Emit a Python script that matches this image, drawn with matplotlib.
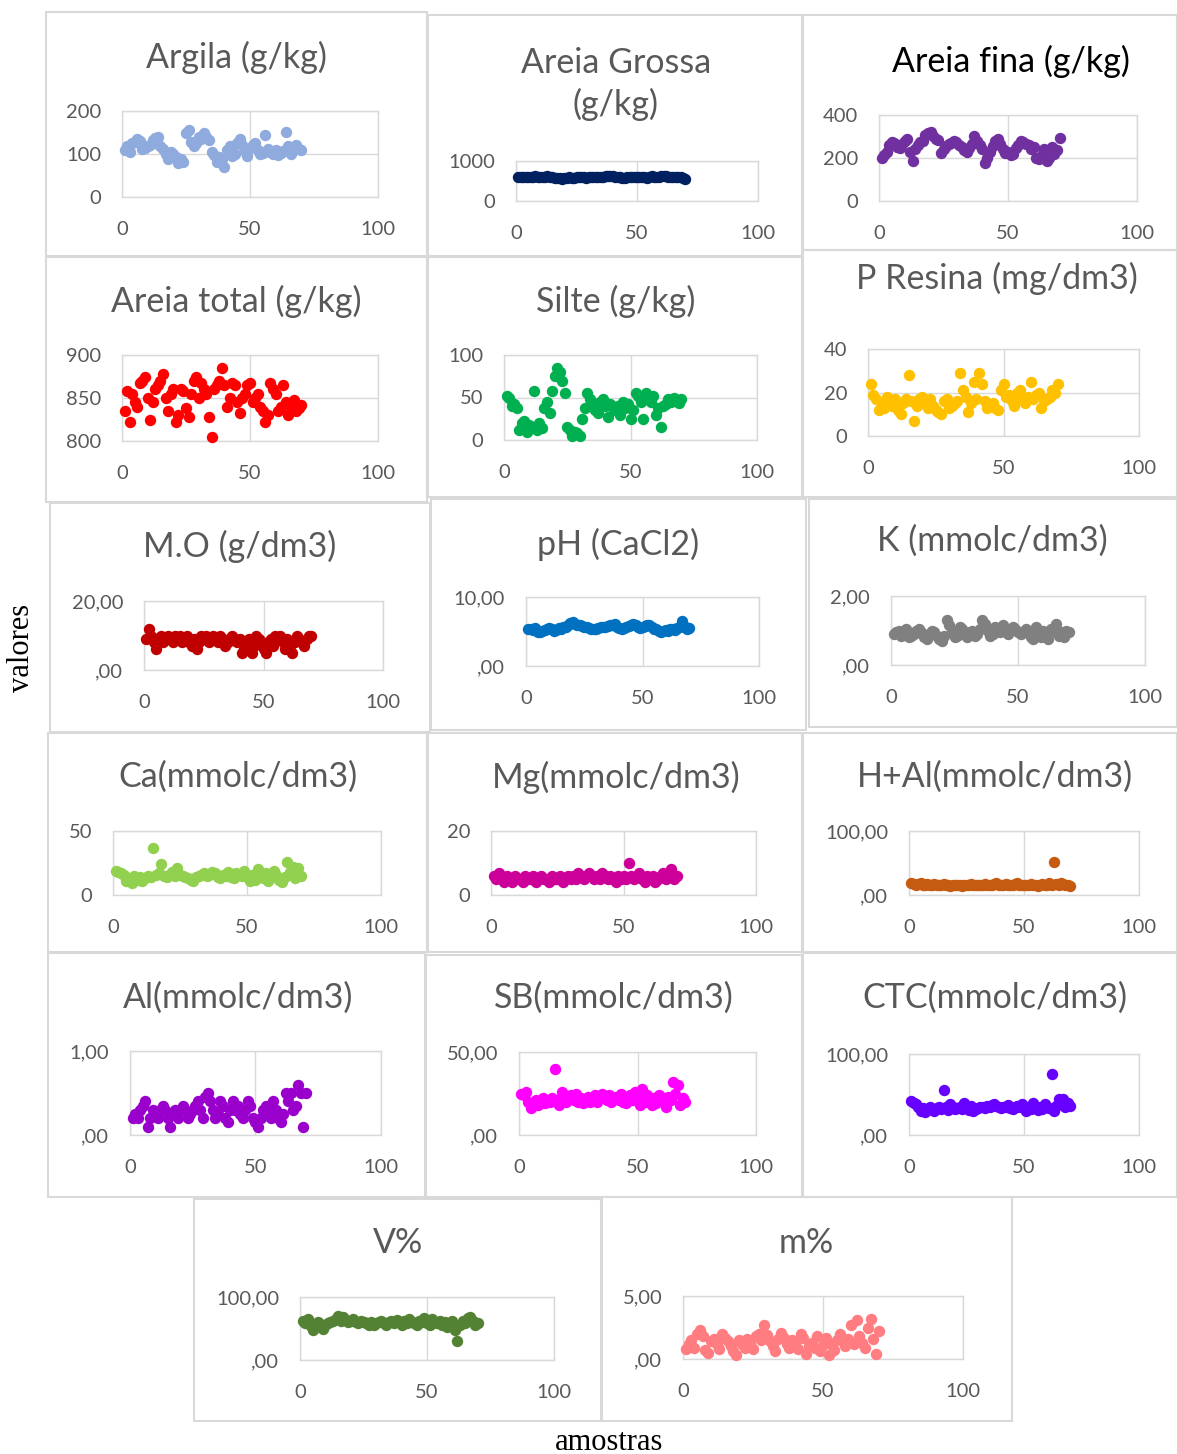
import matplotlib
matplotlib.use("Agg")
import matplotlib.pyplot as plt
from matplotlib.patches import Rectangle
import numpy as np

# ---- data (one value per sample, samples numbered 1..n) ----
argila = [110, 118, 105, 125, 128, 135, 130, 112, 115, 118,
          120, 132, 138, 140, 118, 112, 100, 88, 105, 100,
          92, 78, 88, 82, 148, 155, 128, 118, 125, 140,
          135, 148, 140, 132, 105, 98, 82, 92, 88, 70,
          110, 118, 95, 100, 125, 135, 120, 108, 95, 115,
          120, 125, 110, 100, 102, 145, 112, 105, 100, 110,
          98, 102, 108, 152, 118, 100, 115, 120, 112, 110]
areia_grossa = [600, 610, 590, 595, 605, 600, 610, 615, 600, 590,
                595, 610, 620, 605, 590, 580, 575, 570, 560, 575,
                585, 590, 580, 585, 595, 590, 600, 595, 585, 590,
                600, 610, 595, 590, 605, 600, 615, 620, 630, 625,
                610, 600, 590, 580, 575, 590, 600, 605, 595, 600,
                610, 605, 590, 585, 600, 615, 610, 600, 595, 620,
                630, 625, 610, 600, 590, 605, 600, 590, 575, 560]
areia_fina = [200, 215, 230, 260, 275, 270, 250, 245, 265, 280,
              290, 230, 185, 240, 260, 275, 280, 305, 315, 320,
              300, 290, 285, 225, 240, 255, 265, 270, 280, 275,
              260, 250, 235, 230, 245, 265, 300, 280, 260, 240,
              175, 200, 230, 255, 280, 290, 265, 240, 225, 230,
              215, 220, 245, 260, 280, 275, 265, 260, 240, 250,
              200, 195, 215, 240, 185, 200, 250, 220, 235, 295]
areia_total = [835, 858, 822, 855, 845, 840, 868, 870, 875, 850,
               825, 845, 860, 865, 870, 878, 850, 835, 855, 860,
               822, 830, 860, 858, 838, 828, 855, 870, 875, 850,
               868, 860, 855, 828, 805, 860, 865, 870, 885, 865,
               840, 850, 868, 865, 845, 832, 850, 855, 865, 868,
               845, 850, 855, 840, 835, 822, 830, 868, 860, 855,
               835, 840, 865, 845, 830, 840, 848, 835, 838, 842]
silte = [52, 50, 40, 42, 38, 12, 20, 22, 10, 18,
         15, 58, 12, 20, 14, 38, 45, 32, 58, 75,
         85, 80, 70, 55, 15, 12, 5, 10, 8, 5,
         25, 38, 55, 48, 42, 35, 32, 45, 48, 40,
         27, 42, 38, 35, 40, 30, 45, 38, 42, 25,
         35, 55, 52, 45, 25, 55, 48, 45, 52, 30,
         38, 15, 40, 42, 48, 45, 50, 46, 44, 48]
p_resina = [24, 19, 17, 12, 15, 13, 18, 16, 14, 17,
            12, 10, 15, 17, 28, 16, 7, 14, 17, 18,
            15, 13, 17, 14, 12, 11, 10, 16, 17, 13,
            14, 15, 16, 29, 21, 18, 11, 15, 25, 17,
            29, 24, 16, 13, 14, 15, 13, 12, 21, 24,
            18, 19, 16, 14, 20, 21, 17, 15, 18, 25,
            17, 19, 20, 13, 16, 17, 18, 21, 20, 24]
mo = [9, 12, 10, 8, 6, 9, 10, 8, 9, 10,
      9, 8, 10, 9, 10, 8, 9, 10, 8, 7,
      9, 6, 8, 10, 9, 10, 8, 9, 10, 9,
      8, 10, 9, 7, 8, 9, 10, 9, 8, 9,
      5, 6, 8, 9, 5, 7, 10, 9, 8, 6,
      5, 8, 9, 7, 10, 9, 10, 8, 6, 9,
      7, 5, 8, 10, 9, 8, 7, 9, 10, 10]
ph = [5.4, 5.3, 5.2, 5.5, 5.0, 4.9, 5.1, 5.2, 5.3, 5.5,
      5.4, 5.1, 5.2, 5.5, 5.4, 5.6, 5.7, 5.9, 6.2, 6.4,
      6.1, 6.0, 5.9, 5.8, 5.7, 5.6, 5.5, 5.4, 5.3, 5.4,
      5.5, 5.6, 5.7, 5.6, 5.8, 5.9, 6.0, 6.1, 5.7, 5.5,
      5.4, 5.5, 5.6, 5.8, 6.0, 6.1, 5.9, 5.6, 5.5, 5.7,
      5.8, 5.9, 6.0, 5.6, 5.4, 5.3, 5.1, 5.0, 5.1, 5.2,
      5.1, 5.3, 5.4, 5.2, 5.5, 5.6, 6.5, 5.8, 5.3, 5.5]
k = [0.9, 0.95, 1.0, 0.85, 0.9, 1.05, 0.8, 0.85, 0.9, 1.0,
     1.05, 0.95, 0.8, 0.75, 0.9, 1.0, 0.95, 0.85, 0.75, 0.7,
     0.85, 1.3, 1.15, 0.95, 0.8, 0.85, 1.1, 1.05, 0.9, 0.8,
     0.95, 1.0, 0.85, 0.9, 1.05, 1.3, 1.2, 1.0, 0.85, 0.9,
     1.1, 1.0, 0.95, 1.15, 1.05, 0.9, 1.0, 1.1, 1.05, 0.95,
     0.9, 0.95, 1.05, 1.0, 0.8, 0.75, 1.1, 0.95, 0.8, 1.0,
     0.85, 0.75, 1.05, 1.0, 1.2, 0.85, 0.95, 0.8, 1.0, 0.95]
ca = [19, 18, 17, 16, 11, 13, 9, 15, 12, 14,
      11, 13, 15, 14, 37, 16, 17, 24, 15, 14,
      16, 18, 15, 21, 16, 15, 14, 13, 12, 11,
      14, 15, 16, 17, 15, 16, 18, 17, 14, 13,
      16, 15, 18, 14, 13, 17, 16, 15, 19, 14,
      11, 16, 12, 20, 15, 13, 17, 11, 14, 19,
      16, 12, 10, 14, 26, 18, 22, 13, 21, 15]
mg = [6, 5, 7, 5, 4, 6, 5, 4, 6, 5,
      5, 4, 6, 5, 5, 6, 4, 5, 6, 5,
      5, 4, 6, 5, 5, 6, 4, 5, 6, 5,
      6, 5, 7, 6, 5, 6, 7, 6, 5, 6,
      5, 7, 6, 5, 6, 5, 4, 6, 5, 6,
      5, 10, 6, 5, 6, 7, 5, 4, 6, 5,
      6, 4, 5, 6, 7, 5, 6, 8, 5, 6]
h_al = [18, 17, 16, 17, 18, 16, 15, 17, 16, 16,
        17, 16, 15, 16, 17, 16, 15, 14, 16, 15,
        16, 15, 14, 16, 15, 16, 17, 15, 16, 15,
        16, 15, 17, 16, 15, 16, 17, 18, 16, 15,
        16, 17, 16, 15, 16, 17, 18, 16, 15, 16,
        15, 16, 17, 16, 15, 14, 16, 17, 15, 16,
        18, 16, 52, 17, 16, 18, 17, 16, 15, 14]
al = [0.2, 0.25, 0.2, 0.3, 0.35, 0.4, 0.1, 0.2, 0.3, 0.25,
      0.2, 0.3, 0.35, 0.3, 0.2, 0.1, 0.25, 0.3, 0.2, 0.3,
      0.35, 0.3, 0.2, 0.25, 0.3, 0.35, 0.4, 0.3, 0.2, 0.45,
      0.5, 0.4, 0.3, 0.2, 0.25, 0.4, 0.35, 0.2, 0.15, 0.3,
      0.4, 0.3, 0.35, 0.25, 0.2, 0.3, 0.4, 0.35, 0.2, 0.15,
      0.1, 0.2, 0.3, 0.35, 0.25, 0.2, 0.4, 0.3, 0.2, 0.15,
      0.25, 0.5, 0.4, 0.5, 0.3, 0.35, 0.6, 0.5, 0.1, 0.5]
sb = [25, 24, 26, 20, 16, 19, 21, 18, 20, 22,
      19, 21, 20, 22, 40, 21, 18, 26, 22, 20,
      23, 24, 21, 25, 20, 22, 19, 21, 23, 20,
      22, 24, 20, 23, 25, 22, 21, 24, 20, 22,
      23, 21, 25, 20, 19, 22, 24, 21, 26, 22,
      18, 28, 20, 24, 21, 18, 22, 19, 24, 21,
      22, 17, 23, 21, 32, 25, 30, 18, 22, 20]
ctc = [42, 40, 38, 35, 30, 33, 28, 31, 34, 32,
       30, 33, 35, 32, 55, 34, 31, 38, 34, 32,
       33, 35, 32, 40, 34, 31, 36, 30, 32, 33,
       34, 35, 33, 36, 34, 37, 38, 36, 34, 33,
       35, 34, 37, 33, 32, 35, 36, 34, 38, 33,
       30, 35, 32, 40, 34, 31, 35, 32, 38, 34,
       33, 75, 30, 36, 45, 38, 44, 34, 40, 36]
v_pct = [62, 58, 65, 55, 48, 52, 60, 57, 50, 55,
         58, 60, 62, 65, 70, 62, 68, 64, 60, 62,
         65, 60, 58, 62, 60, 58, 56, 60, 55, 58,
         60, 62, 58, 55, 60, 62, 58, 63, 60, 56,
         62, 58, 65, 60, 58, 56, 62, 60, 66, 58,
         55, 65, 60, 58, 62, 56, 60, 52, 58, 62,
         48, 30, 55, 62, 58, 66, 68, 62, 55, 58]
m_pct = [0.8, 1.2, 1.5, 0.9, 2.0, 2.3, 1.8, 0.7, 0.5, 1.4,
         1.6, 1.2, 0.8, 2.0, 1.7, 1.4, 1.0, 0.6, 0.3, 1.5,
         1.2, 0.9, 1.6, 1.3, 0.8, 1.8, 2.0, 1.5, 2.7, 1.9,
         1.4, 1.0, 0.6, 1.6, 2.1, 1.7, 1.2, 0.9, 1.5, 1.3,
         0.8, 2.0, 1.7, 0.4, 1.0, 1.3, 0.9, 1.8, 0.6, 1.1,
         1.7, 0.3, 1.2, 0.7, 1.5, 2.0, 1.4, 1.0, 1.6, 2.7,
         1.2, 3.1, 1.8, 1.3, 0.9, 2.5, 3.2, 1.6, 0.4, 2.2]

TITLES = ["Argila (g/kg)", "Areia Grossa\n(g/kg)", "Areia fina (g/kg)",
          "Areia total (g/kg)", "Silte (g/kg)", "P Resina (mg/dm3)",
          "M.O (g/dm3)", "pH (CaCl2)", "K (mmolc/dm3)",
          "Ca(mmolc/dm3)", "Mg(mmolc/dm3)", "H+Al(mmolc/dm3)",
          "Al(mmolc/dm3)", "SB(mmolc/dm3)", "CTC(mmolc/dm3)",
          "V%", "m%"]
SERIES = [argila, areia_grossa, areia_fina, areia_total, silte, p_resina,
          mo, ph, k, ca, mg, h_al, al, sb, ctc, v_pct, m_pct]
YTICKS = [[0, 100, 200], [0, 1000], [0, 200, 400],
          [800, 850, 900], [0, 50, 100], [0, 20, 40],
          [0, 20], [0, 10], [0, 2],
          [0, 50], [0, 20], [0, 100],
          [0, 1], [0, 50], [0, 100],
          [0, 100], [0, 5]]
YTICKLABELS = [["0", "100", "200"], ["0", "1000"], ["0", "200", "400"],
               ["800", "850", "900"], ["0", "50", "100"], ["0", "20", "40"],
               [",00", "20,00"], [",00", "10,00"], [",00", "2,00"],
               ["0", "50"], ["0", "20"], [",00", "100,00"],
               [",00", "1,00"], [",00", "50,00"], [",00", "100,00"],
               [",00", "100,00"], [",00", "5,00"]]
XTICKS = [0, 50, 100]

# ---- layout / style (pixels of a 1177 x 1454 canvas) ----
W, H = 1177, 1454
COLORS = ["#8faadc", "#002060", "#7030a0", "#ff0000", "#00b050", "#ffc000",
          "#c00000", "#0070c0", "#808080", "#92d050", "#cc0099", "#c55a11",
          "#9900cc", "#ff00ff", "#6600ff", "#548235", "#ff7c80"]
FRAMES = [(46, 12, 427, 256), (428, 15, 802, 256), (803, 15, 1177, 250),
          (46, 257, 427, 502), (428, 257, 802, 497), (803, 250, 1177, 497),
          (50, 503, 430, 732), (431, 499, 806, 730), (809, 499, 1177, 727),
          (48, 733, 427, 952), (428, 733, 802, 952), (803, 733, 1177, 952),
          (48, 953, 425, 1197), (426, 955, 802, 1197), (803, 953, 1177, 1197),
          (194, 1199, 601, 1421), (602, 1197, 1012, 1421)]
BOXES = [(122, 111, 378, 197), (516, 161, 758, 201), (879, 115, 1137, 201),
         (122, 355, 378, 441), (504, 355, 757, 440), (868, 349, 1139, 436),
         (144, 601, 383, 670), (526, 597, 759, 666), (891, 596, 1145, 665),
         (113, 831, 381, 895), (491, 831, 756, 895), (909, 831, 1139, 895),
         (130, 1051, 381, 1135), (519, 1052, 756, 1135), (909, 1054, 1139, 1135),
         (300, 1297, 554, 1360), (683, 1296, 963, 1359)]
TITLE_POS = [(236, 57), (616, 84), (1011, 61),
             (236, 301), (616, 301), (997, 278),
             (240, 546), (618, 544), (992, 541),
             (238, 777), (616, 777), (995, 777),
             (238, 998), (614, 998), (995, 998),
             (398, 1243), (806, 1243)]
GRID = "#d9d9d9"
TXT = "#595959"
FONT = "Lato"

fig = plt.figure(figsize=(W / 100, H / 100), dpi=100)

for i, y in enumerate(SERIES):
    l, t, r, b = FRAMES[i]
    fig.add_artist(Rectangle((l / W, 1 - b / H), (r - l) / W, (b - t) / H,
                             transform=fig.transFigure, fill=False,
                             edgecolor=GRID, linewidth=1.5))
    l, t, r, b = BOXES[i]
    ax = fig.add_axes([l / W, 1 - b / H, (r - l) / W, (b - t) / H])
    x = np.arange(1, len(y) + 1)
    ax.plot(x, y, "o", color=COLORS[i], markersize=8.2, markeredgewidth=0,
            clip_on=False, zorder=3)
    yt = YTICKS[i]
    ax.set_xlim(0, 100)
    ax.set_ylim(yt[0], yt[-1])
    ax.set_xticks(XTICKS)
    ax.set_xticklabels([str(v) for v in XTICKS])
    ax.set_yticks(yt)
    ax.set_yticklabels(YTICKLABELS[i])
    ax.grid(True, color=GRID, linewidth=1.0, zorder=0)
    ax.set_axisbelow(True)
    for s in ax.spines.values():
        s.set_color(GRID)
        s.set_linewidth(1.0)
    ax.tick_params(length=0, labelsize=14.5, labelcolor=TXT)
    ax.tick_params(axis="y", pad=15)
    ax.tick_params(axis="x", pad=17.5)
    for lab in ax.get_xticklabels() + ax.get_yticklabels():
        lab.set_family(FONT)
    cx, cy = TITLE_POS[i]
    fig.text(cx / W, 1 - cy / H, TITLES[i], ha="center", va="center",
             fontsize=24.5, family=FONT, linespacing=1.35,
             color="black" if i == 2 else TXT)

fig.text(22 / W, 1 - 648 / H, "valores", rotation=90, ha="center", va="center",
         fontsize=22, family="Liberation Serif", color="black")
fig.text(609 / W, 1 - 1442 / H, "amostras", ha="center", va="center",
         fontsize=22, family="Liberation Serif", color="black")

fig.savefig("out.png", dpi=100)
